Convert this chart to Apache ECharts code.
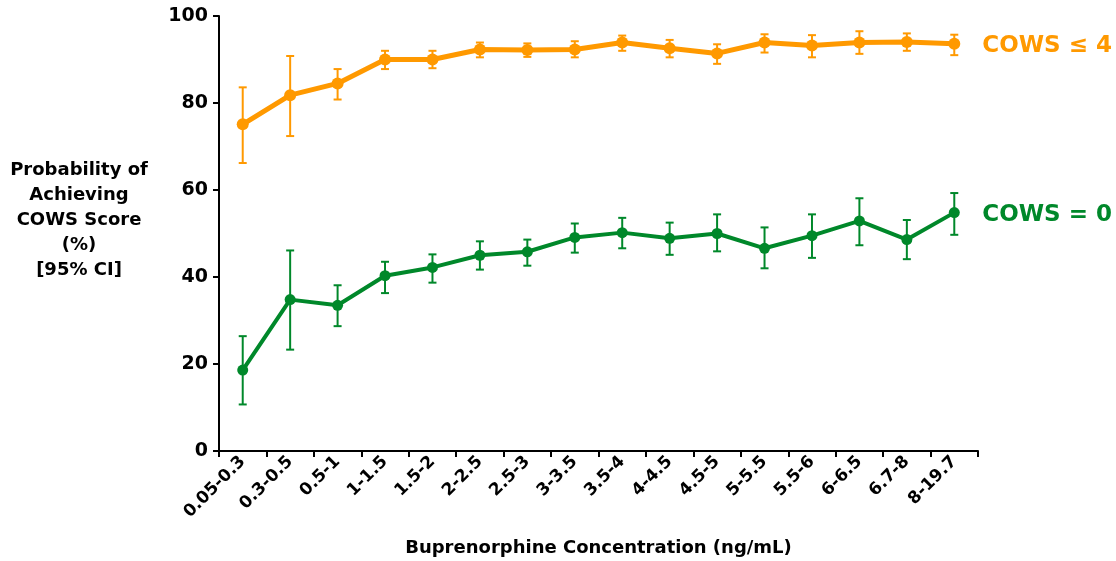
<!DOCTYPE html>
<html>
<head>
<meta charset="utf-8">
<script src="https://cdn.jsdelivr.net/npm/echarts@6/dist/echarts.min.js"></script>
<style>
  html, body { margin: 0; padding: 0; background: #fff; overflow: hidden; }
  #chart { width: 1116px; height: 561px; }
</style>
</head>
<body>
<div id="chart"></div>
<script>
// Buprenorphine concentration bins (ng/mL)
const categories = ['0.05-0.3', '0.3-0.5', '0.5-1', '1-1.5', '1.5-2', '2-2.5', '2.5-3', '3-3.5',
  '3.5-4', '4-4.5', '4.5-5', '5-5.5', '5.5-6', '6-6.5', '6.7-8', '8-19.7'];

// Probability (%) of COWS score <= 4, with 95% CI
const cows4 = [75.1, 81.8, 84.5, 90.0, 90.0, 92.3, 92.2, 92.3, 93.9, 92.6, 91.4, 93.9, 93.2, 93.9, 94.0, 93.6];
const cows4Low = [66.2, 72.4, 80.8, 87.8, 88.0, 90.5, 90.6, 90.5, 92.0, 90.5, 89.0, 91.6, 90.5, 91.3, 92.0, 91.0];
const cows4High = [83.6, 90.8, 87.8, 92.0, 92.0, 93.9, 93.7, 94.2, 95.5, 94.5, 93.5, 95.8, 95.6, 96.5, 96.0, 95.7];

// Probability (%) of COWS score = 0, with 95% CI
const cows0 = [18.6, 34.8, 33.5, 40.3, 42.2, 45.0, 45.8, 49.1, 50.2, 48.9, 50.0, 46.6, 49.5, 52.9, 48.6, 54.8];
const cows0Low = [10.7, 23.3, 28.7, 36.3, 38.7, 41.7, 42.6, 45.6, 46.6, 45.1, 45.9, 42.0, 44.4, 47.3, 44.1, 49.7];
const cows0High = [26.4, 46.1, 38.1, 43.5, 45.2, 48.2, 48.6, 52.3, 53.6, 52.5, 54.4, 51.4, 54.4, 58.1, 53.1, 59.3];

const yTicks = [0, 20, 40, 60, 80, 100];

const ORANGE = '#FF9900';
const GREEN = '#00882A';
const FONT = '"DejaVu Sans", "Liberation Sans", Arial, sans-serif';

function ciData(low, high) {
  return low.map((l, i) => [i, l, high[i]]);
}

// Vertical 95% CI bar with short caps at both ends
function errorBarSeries(low, high, color) {
  return {
    type: 'custom',
    data: ciData(low, high),
    z: 3,
    silent: true,
    renderItem: function (params, api) {
      const x = api.value(0);
      const lo = api.coord([x, api.value(1)]);
      const hi = api.coord([x, api.value(2)]);
      const half = 4;
      const style = { stroke: color, lineWidth: 2 };
      return {
        type: 'group',
        children: [
          { type: 'line', shape: { x1: lo[0], y1: lo[1], x2: hi[0], y2: hi[1] }, style: style },
          { type: 'line', shape: { x1: lo[0] - half, y1: lo[1], x2: lo[0] + half, y2: lo[1] }, style: style },
          { type: 'line', shape: { x1: hi[0] - half, y1: hi[1], x2: hi[0] + half, y2: hi[1] }, style: style }
        ]
      };
    }
  };
}

function lineSeries(values, color, label, width, size) {
  return {
    type: 'line',
    data: values,
    z: 4,
    symbol: 'circle',
    symbolSize: size,
    lineStyle: { color: color, width: width },
    itemStyle: { color: color },
    endLabel: {
      show: true,
      formatter: label,
      color: color,
      fontFamily: FONT,
      fontWeight: 'bold',
      fontSize: 23,
      distance: 28,
      offset: [0, 2]
    }
  };
}

const chart = echarts.init(document.getElementById('chart'), null, { renderer: 'canvas' });

chart.setOption({
  animation: false,
  backgroundColor: '#fff',
  grid: { left: 219, right: 138, top: 16, bottom: 110, containLabel: false, outerBoundsMode: 'none' },
  xAxis: {
    type: 'category',
    data: categories,
    boundaryGap: true,
    name: 'Buprenorphine Concentration (ng/mL)',
    nameLocation: 'middle',
    nameGap: 88,
    nameTextStyle: { fontFamily: FONT, fontWeight: 'bold', fontSize: 18, color: '#000' },
    axisLine: { lineStyle: { color: '#000', width: 2 } },
    axisTick: { show: true, length: 6, alignWithLabel: false, lineStyle: { color: '#000', width: 2 } },
    axisLabel: {
      rotate: 45,
      interval: 0,
      margin: 8,
      fontFamily: FONT,
      fontWeight: 'bold',
      fontSize: 17,
      color: '#000'
    },
    splitLine: { show: false }
  },
  yAxis: {
    type: 'value',
    min: yTicks[0],
    max: yTicks[yTicks.length - 1],
    interval: 20,
    axisLine: { show: true, lineStyle: { color: '#000', width: 2 } },
    axisTick: { show: true, length: 6, lineStyle: { color: '#000', width: 2 } },
    axisLabel: {
      margin: 11,
      fontFamily: FONT,
      fontWeight: 'bold',
      fontSize: 19,
      color: '#000'
    },
    splitLine: { show: false }
  },
  graphic: [{
    type: 'text',
    x: 79,
    y: 158,
    style: {
      text: 'Probability of\nAchieving\nCOWS Score\n(%)\n[95% CI]',
      textAlign: 'center',
      textVerticalAlign: 'top',
      fontFamily: FONT,
      fontWeight: 'bold',
      fontSize: 18,
      lineHeight: 25,
      fill: '#000'
    }
  }],
  series: [
    errorBarSeries(cows4Low, cows4High, ORANGE),
    lineSeries(cows4, ORANGE, 'COWS ≤ 4', 5, 12),
    errorBarSeries(cows0Low, cows0High, GREEN),
    lineSeries(cows0, GREEN, 'COWS = 0', 4, 11)
  ]
});
</script>
</body>
</html>
